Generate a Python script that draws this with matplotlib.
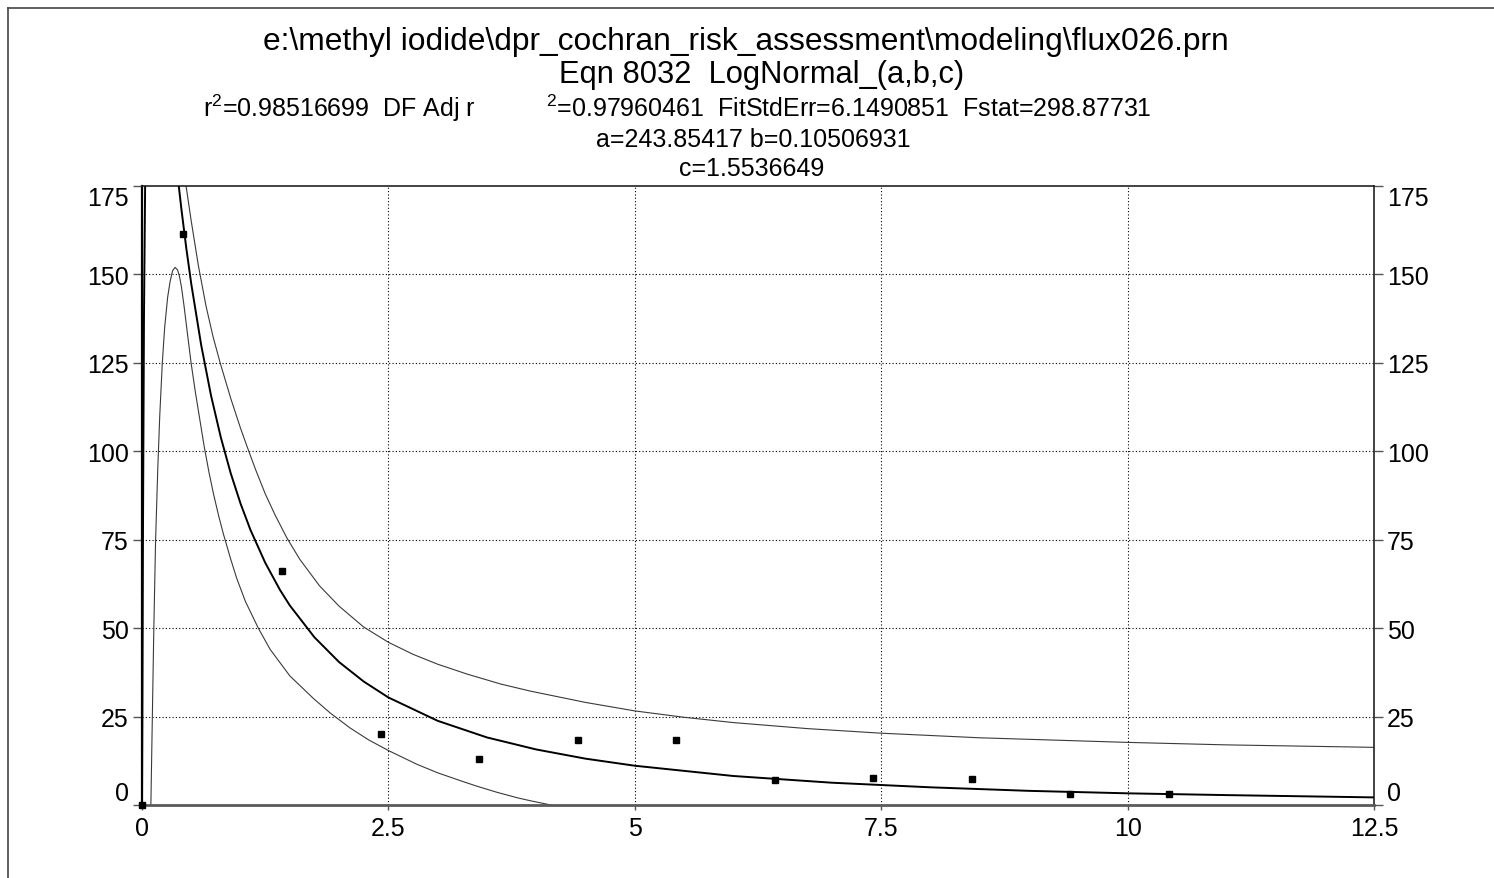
import matplotlib
matplotlib.use("Agg")
import matplotlib.pyplot as plt
from matplotlib.lines import Line2D

plt.rcParams['font.family'] = ['Liberation Sans', 'DejaVu Sans']
plt.rcParams['mathtext.fontset'] = 'custom'
plt.rcParams['mathtext.rm'] = 'Liberation Sans'
plt.rcParams['mathtext.it'] = 'Liberation Sans'

# measured data points
data_x = [0, 0.42, 1.42, 2.42, 3.42, 4.42, 5.42, 6.42, 7.42, 8.42, 9.42, 10.42]
data_y = [0, 161.5, 66.2, 20.0, 12.9, 18.5, 18.5, 7.0, 7.7, 7.4, 3.0, 3.0]

# fitted curve
fit_x = [0, 0.005, 0.01, 0.02, 0.04, 0.06, 0.105, 0.2, 0.3, 0.35, 0.4, 0.45, 0.5, 0.6, 0.7,
         0.8, 0.9, 1.0, 1.1, 1.25, 1.4, 1.5, 1.75, 2.0, 2.25, 2.5, 3.0, 3.5, 4.0, 4.5, 5.0,
         6.0, 7.0, 8.0, 9.0, 10.0, 11.0, 12.5]
fit_y = [0, 35.8, 77.5, 137.9, 201, 228.5, 243.9, 223.8, 194.2, 180.7, 168.4, 157.3, 147.3,
         130.1, 115.8, 103.9, 93.8, 85.2, 77.8, 68.5, 60.8, 56.4, 47.4, 40.4, 34.9, 30.4, 23.8,
         19.1, 15.7, 13.1, 11.1, 8.2, 6.3, 5.0, 4.0, 3.3, 2.8, 2.15]

# lower band
low_x = [0.09, 0.105, 0.12, 0.138, 0.16, 0.18, 0.206, 0.23, 0.26, 0.285, 0.31, 0.335, 0.36,
         0.38, 0.40, 0.427, 0.46, 0.498, 0.54, 0.572, 0.63, 0.68, 0.725, 0.78, 0.827, 0.9,
         0.962, 1.05, 1.18, 1.3, 1.5, 1.74, 1.91, 2.11, 2.3, 2.5, 2.79, 3.0, 3.27, 3.4, 3.6,
         3.8, 3.94, 4.15]
low_y = [0, 25, 50, 75, 95, 110, 125, 135, 143.5, 148, 151, 152, 151.3, 149.5, 146.5, 141,
         133.5, 125, 117, 111.5, 101.5, 94, 88, 81.5, 76.5, 69.5, 64, 57.5, 50, 44, 36.5, 30.1,
         26, 21.8, 18.4, 15.4, 11.5, 9.1, 6.5, 5.3, 3.6, 2.1, 1.2, 0]

# upper band
up_x = [0.40, 0.447, 0.50, 0.572, 0.65, 0.72, 0.793, 0.9, 1.0, 1.064, 1.15, 1.25, 1.35, 1.47,
        1.6, 1.8, 2.0, 2.25, 2.5, 2.75, 3.0, 3.3, 3.64, 3.94, 4.5, 5.0, 5.5, 6.0, 6.75, 7.5,
        8.5, 10.0, 11.0, 12.5]
up_y = [184, 175, 165, 152.5, 141, 132.5, 125, 115, 106.5, 101.5, 95, 88, 82, 75.5, 69.5, 62,
        56.2, 50.3, 46, 42.6, 39.8, 37, 34.2, 32.2, 29, 26.6, 24.8, 23.3, 21.6, 20.3, 19.0,
        17.7, 17.0, 16.3]

x_ticks = [0, 2.5, 5, 7.5, 10, 12.5]
x_labels = ["0", "2.5", "5", "7.5", "10", "12.5"]
y_ticks = [0, 25, 50, 75, 100, 125, 150, 175]
y_labels = ["0", "25", "50", "75", "100", "125", "150", "175"]

W, H = 1494, 879
fig = plt.figure(figsize=(W / 100, H / 100), dpi=100)
ax = fig.add_axes([142 / W, 1 - 806 / H, (1374 - 142) / W, (806 - 187) / H])

ax.set_xlim(0, 12.5)
ax.set_ylim(0, 175)

for xv in x_ticks[1:-1]:
    ax.axvline(xv, color='black', lw=0.8, ls=(0, (1, 2)), zorder=1)
for yv in y_ticks[1:-1]:
    ax.axhline(yv, color='black', lw=0.8, ls=(0, (1, 2)), zorder=1)

ax.plot(low_x, low_y, color='#3a3a3a', lw=0.8, zorder=2)
ax.plot(up_x, up_y, color='#3a3a3a', lw=0.8, zorder=2)
ax.plot(fit_x, fit_y, color='black', lw=1.4, zorder=3)
ax.plot(data_x, data_y, ls='none', marker='s', ms=4.2, color='black', zorder=4, clip_on=False)

ax.set_xticks(x_ticks)
ax.set_xticklabels(x_labels)
ax.set_yticks(y_ticks)
ax.set_yticklabels(y_labels)
ax.tick_params(axis='x', direction='out', length=3.5, width=1, color='#555555',
               labelsize=18, pad=4.5)
ax.tick_params(axis='y', direction='out', length=6.5, width=1, color='#555555',
               labelsize=18, pad=3, right=True, labelright=True)

yt = ax.yaxis.get_major_ticks()
yt[0].label1.set_va('bottom')
yt[0].label2.set_va('bottom')
yt[-1].label1.set_va('top')
yt[-1].label2.set_va('top')

ax.spines['left'].set_linewidth(1.6)
ax.spines['left'].set_color('black')
ax.spines['bottom'].set_linewidth(2)
ax.spines['bottom'].set_color('#5a5a5a')
ax.spines['top'].set_linewidth(1.2)
ax.spines['top'].set_color('#222222')
ax.spines['right'].set_linewidth(1.2)
ax.spines['right'].set_color('#222222')

# figure frame (left and top)
fig.add_artist(Line2D([8 / W, 8 / W], [0, 1 - 9 / H], transform=fig.transFigure,
                      color='#444444', lw=1.2))
fig.add_artist(Line2D([8 / W, 1], [1 - 9 / H, 1 - 9 / H], transform=fig.transFigure,
                      color='#444444', lw=1.2))

fig.text(746 / W, 1 - 50 / H, r"e:\methyl iodide\dpr_cochran_risk_assessment\modeling\flux026.prn",
         ha='center', va='baseline', fontsize=22.9)
fig.text(762 / W, 1 - 83 / H, "Eqn 8032  LogNormal_(a,b,c)", ha='center', va='baseline',
         fontsize=22.2)
fig.text(203 / W, 1 - 117 / H, r"r$^{2}$=0.98516699  DF Adj r", ha='left', va='baseline',
         fontsize=18)
fig.text(546 / W, 1 - 117 / H, r"$^{2}$=0.97960461  FitStdErr=6.1490851  Fstat=298.87731",
         ha='left', va='baseline', fontsize=18)
fig.text(753 / W, 1 - 147 / H, "a=243.85417 b=0.10506931", ha='center', va='baseline', fontsize=18)
fig.text(752 / W, 1 - 176 / H, "c=1.5536649", ha='center', va='baseline', fontsize=18)

fig.savefig("out.png", dpi=100)
